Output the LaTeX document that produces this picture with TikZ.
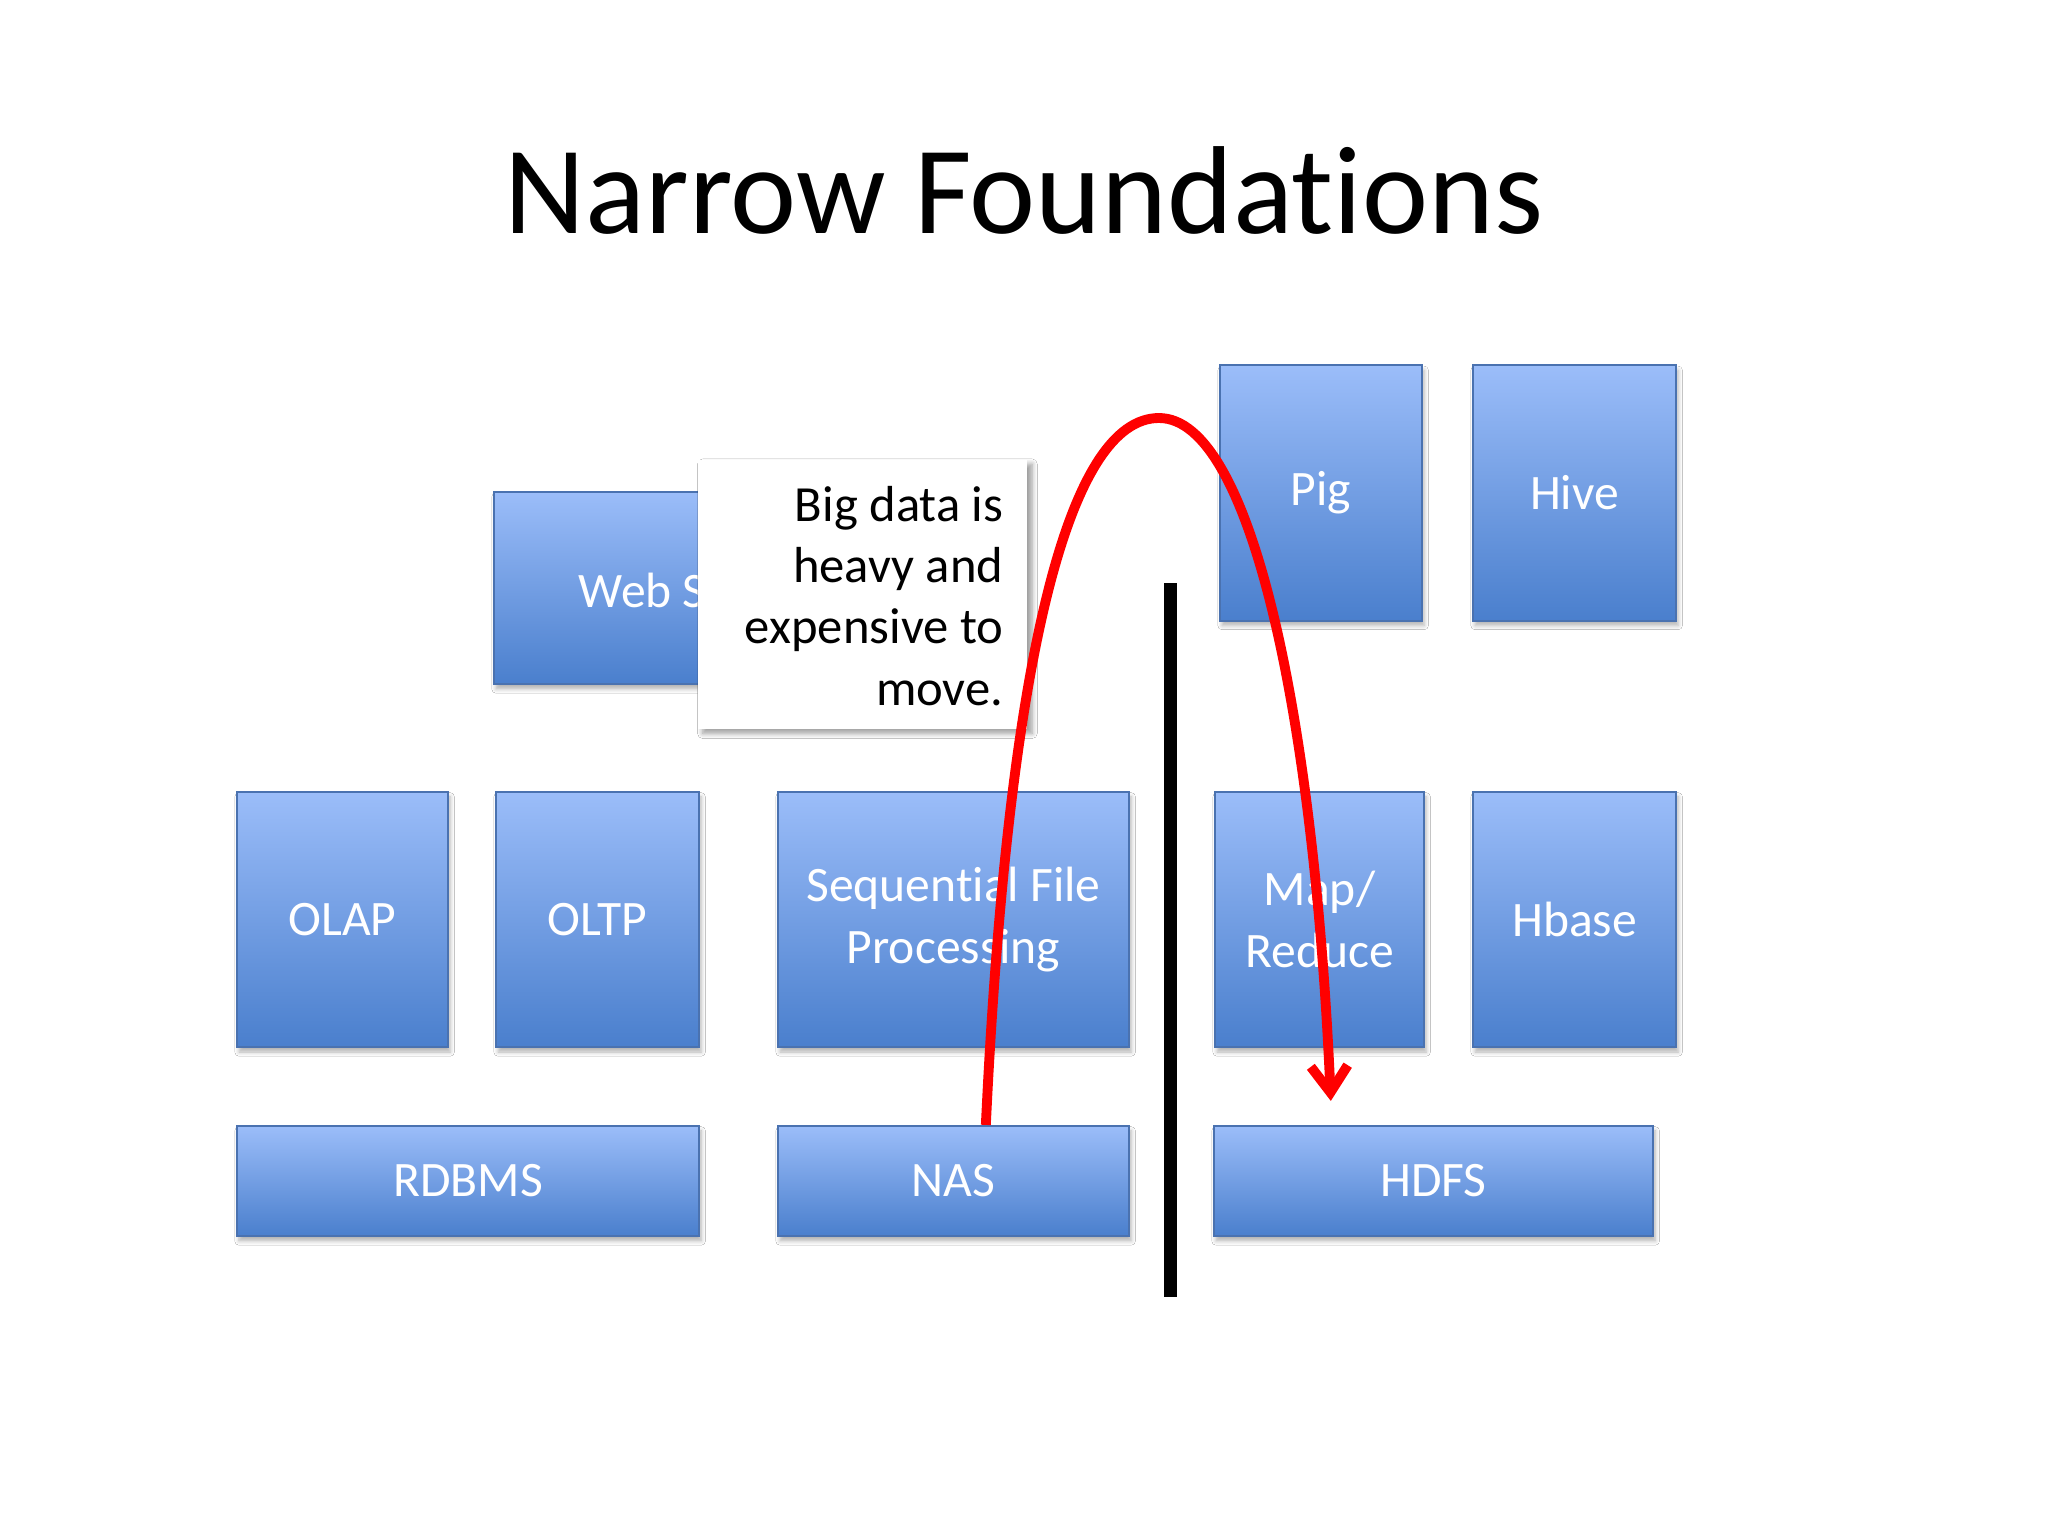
\documentclass[tikz,border=0pt]{standalone}
\usepackage{fontspec}
\setmainfont{Carlito}[Ligatures=CommonOff]
\usetikzlibrary{arrows.meta, positioning, calc, shadows.blur}
\definecolor{BoxTop}{HTML}{9BBDF9}
\definecolor{BoxBot}{HTML}{4A7FCD}
\definecolor{BoxInk}{HTML}{4A72B0}
\definecolor{MoveRed}{HTML}{FF0000}
\tikzset{
  stackbox/.style={draw=BoxInk, top color=BoxTop, bottom color=BoxBot,
    line width=0.6pt, text=white, align=center, inner sep=0pt,
    font=\fontsize{14.1}{17.4}\selectfont,
    blur shadow={shadow xshift=0.6pt, shadow yshift=-1.4pt,
      shadow blur radius=1.2pt, shadow blur steps=5, shadow opacity=30}},
  tallbox/.style={stackbox, minimum height=2.55cm},
  flatbox/.style={stackbox, minimum height=1.10cm},
  movearrow/.style={draw=MoveRed, line width=2.8pt,
    -{Straight Barb[length=7.5pt, width=10.5pt]}},
}
\begin{document}
\begin{tikzpicture}[x=0.01cm, y=-0.01cm]
\useasboundingbox[fill=white] (0,0) rectangle (2048,1536);
\node[font=\fontsize{35.6}{43}\selectfont, anchor=base] (title) at (1024,233)
  {Narrow Foundations};
% top row
\node[stackbox, minimum width=4.00cm, minimum height=1.92cm] (web) at (694,588) {};
\node[text=white, font=\fontsize{14.1}{17.4}\selectfont, anchor=west, inner sep=0pt]
  (webtext) at (578,590) {Web S};
\node[tallbox, minimum width=2.02cm] (pig) at (1321,493) {Pig};
\node[tallbox, minimum width=2.03cm] (hive) at (1574.5,493) {Hive};
% middle row
\node[tallbox, minimum width=2.11cm] (olap) at (342.5,919.5) {OLAP};
\node[tallbox, minimum width=2.03cm] (oltp) at (597.5,919.5) {OLTP};
\node[tallbox, minimum width=3.51cm] (seq) at (953.5,919.5)
  {Sequential File\\Processing};
\node[tallbox, minimum width=2.09cm] (mapred) at (1319.5,919.5) {Map/\\Reduce};
\node[tallbox, minimum width=2.03cm] (hbase) at (1574.5,919.5) {Hbase};
% storage row
\node[flatbox, minimum width=4.62cm] (rdbms) at (468,1181) {RDBMS};
\node[flatbox, minimum width=3.51cm] (nas) at (953.5,1181) {NAS};
\node[flatbox, minimum width=4.39cm] (hdfs) at (1433.5,1181) {HDFS};
% callout
\node[fill=white, minimum width=3.29cm, minimum height=2.69cm,
      blur shadow={shadow xshift=1.4pt, shadow yshift=-1.2pt,
        shadow blur radius=1.5pt, shadow blur steps=6, shadow opacity=40}]
  (note) at (862.5,594.5) {};
\node[anchor=east, align=right, inner sep=0pt,
      font=\fontsize{14.4}{17.4}\selectfont] (notetext) at (1004,596)
  {Big data is\\heavy and\\expensive to\\move.};
% divide
\coordinate (walltop) at (1170,583);
\coordinate (wallbot) at (1170,1297);
\draw[line width=3.7pt] (walltop) -- (wallbot);
% move
\coordinate (lift) at ($(nas.north west)+(209,0)$);
\coordinate (peak) at (1159,418);
\coordinate (drop) at ($(hdfs.north west)+(118,-24)$);
\draw[movearrow] (lift) .. controls (1008,660) and (1068,418) .. (peak)
  .. controls (1252,418) and (1314,720) .. (drop);
\end{tikzpicture}
\end{document}
